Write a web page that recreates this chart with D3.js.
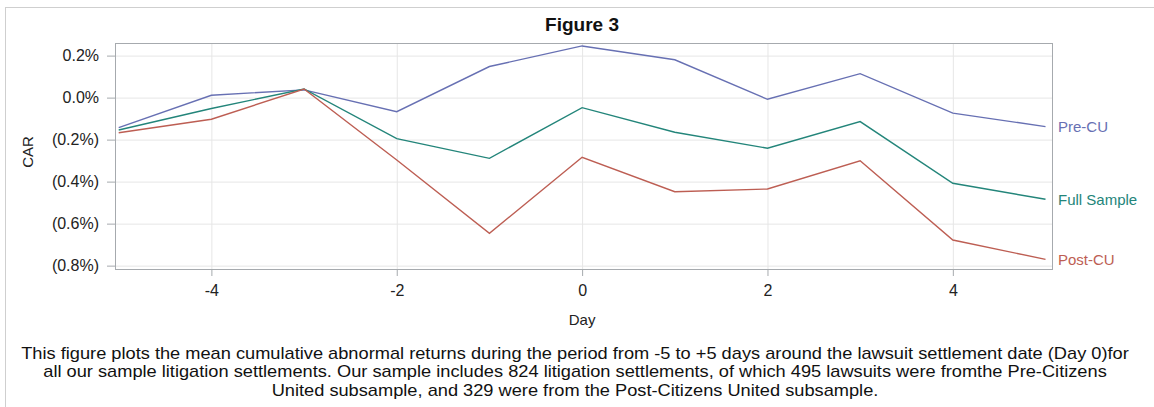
<!DOCTYPE html>
<html>
<head>
<meta charset="utf-8">
<script src="https://cdn.jsdelivr.net/npm/d3@7"></script>
<style>
  body { margin: 0; background: #fff; }
  svg text { font-family: "Liberation Sans", Arial, sans-serif; }
  .grid line { stroke: #e6e6e6; }
  .grid path { display: none; }
  .axis path { display: none; }
  .axis line { stroke: #a6aaae; }
  .axis text { fill: #222; font-size: 16px; }
</style>
</head>
<body>
<div id="chart"></div>
<script>
// CAR in percent
const days = [-5, -4, -3, -2, -1, 0, 1, 2, 3, 4, 5];
const preCU = [-0.143, 0.011, 0.037, -0.067, 0.148, 0.246, 0.180, -0.008, 0.114, -0.074, -0.138];
const fullSample = [-0.154, -0.052, 0.041, -0.195, -0.289, -0.048, -0.165, -0.241, -0.114, -0.408, -0.484];
const postCU = [-0.167, -0.103, 0.041, -0.297, -0.646, -0.284, -0.448, -0.435, -0.301, -0.678, -0.770];
const seriesNames = ["Pre-CU", "Full Sample", "Post-CU"];
const seriesColors = ["#6770b3", "#23857a", "#bd5e53"];
const yTicks = [0.2, 0.0, -0.2, -0.4, -0.6, -0.8];
const xTicks = [-4, -2, 0, 2, 4];
const captionLines = [
  "This figure plots the mean cumulative abnormal returns during the period from -5 to +5 days around the lawsuit settlement date (Day 0)for",
  "all our sample litigation settlements. Our sample includes 824 litigation settlements, of which 495 lawsuits were fromthe Pre-Citizens",
  "United subsample, and 329 were from the Post-Citizens United subsample."
];

const W = 1154, H = 407;
const plot = { left: 115, right: 1052, top: 43, bottom: 269 };

const svg = d3.select("#chart").append("svg")
  .attr("width", W).attr("height", H);

// outer frame (runs past the window on the right and bottom)
svg.append("rect")
  .attr("x", 5.5).attr("y", 7.5)
  .attr("width", W + 20).attr("height", H + 20)
  .attr("fill", "none").attr("stroke", "#cfcfcf");

const x = d3.scaleLinear().domain([-5.04, 5.07]).range([plot.left, plot.right]);
const y = d3.scaleLinear().domain([-0.816, 0.26]).range([plot.bottom, plot.top]);

const fmt = v => {
  const s = Math.abs(v).toFixed(1) + "%";
  return v < -1e-9 ? "(" + s + ")" : s;
};

// grid lines
svg.append("g").attr("class", "grid")
  .attr("transform", `translate(${plot.left},0)`)
  .call(d3.axisLeft(y).tickValues(yTicks).tickSize(-(plot.right - plot.left)).tickFormat(""));
svg.append("g").attr("class", "grid")
  .attr("transform", `translate(0,${plot.bottom})`)
  .call(d3.axisBottom(x).tickValues(xTicks).tickSize(-(plot.bottom - plot.top)).tickFormat(""));

// plot frame
svg.append("rect")
  .attr("x", plot.left + 0.5).attr("y", plot.top + 0.5)
  .attr("width", plot.right - plot.left).attr("height", plot.bottom - plot.top)
  .attr("fill", "none").attr("stroke", "#a6aaae");

// axes
svg.append("g").attr("class", "axis")
  .attr("transform", `translate(${plot.left},0)`)
  .call(d3.axisLeft(y).tickValues(yTicks).tickFormat(fmt).tickSize(8).tickPadding(8));
svg.append("g").attr("class", "axis")
  .attr("transform", `translate(0,${plot.bottom})`)
  .call(d3.axisBottom(x).tickValues(xTicks).tickFormat(d => d).tickSize(7).tickPadding(9));

svg.append("text")
  .attr("transform", `translate(33,152) rotate(-90)`)
  .attr("text-anchor", "middle")
  .attr("font-size", 15).attr("fill", "#222")
  .text("CAR");

svg.append("text")
  .attr("x", x(0)).attr("y", 325)
  .attr("text-anchor", "middle")
  .attr("font-size", 15).attr("fill", "#222")
  .text("Day");

svg.append("text")
  .attr("x", 582).attr("y", 31)
  .attr("text-anchor", "middle")
  .attr("font-size", 19).attr("font-weight", "bold").attr("fill", "#111")
  .text("Figure 3");

// series
const series = [preCU, fullSample, postCU];
const line = d3.line()
  .x((d, i) => x(days[i]))
  .y(d => y(d));

series.forEach((vals, k) => {
  svg.append("path")
    .datum(vals)
    .attr("fill", "none")
    .attr("stroke", seriesColors[k])
    .attr("stroke-width", 1.4)
    .attr("d", line);

  svg.append("text")
    .attr("x", plot.right + 6)
    .attr("y", y(vals[vals.length - 1]))
    .attr("dy", "0.35em")
    .attr("font-size", 15)
    .attr("fill", seriesColors[k])
    .text(seriesNames[k]);
});

// caption, slightly wide lettering like the original
svg.append("g").selectAll("text")
  .data(captionLines)
  .enter().append("text")
  .attr("transform", (d, i) => `translate(575,${359 + i * 18.3}) scale(1.14,1)`)
  .attr("text-anchor", "middle")
  .attr("font-size", 16).attr("fill", "#111")
  .text(d => d);
</script>
</body>
</html>
